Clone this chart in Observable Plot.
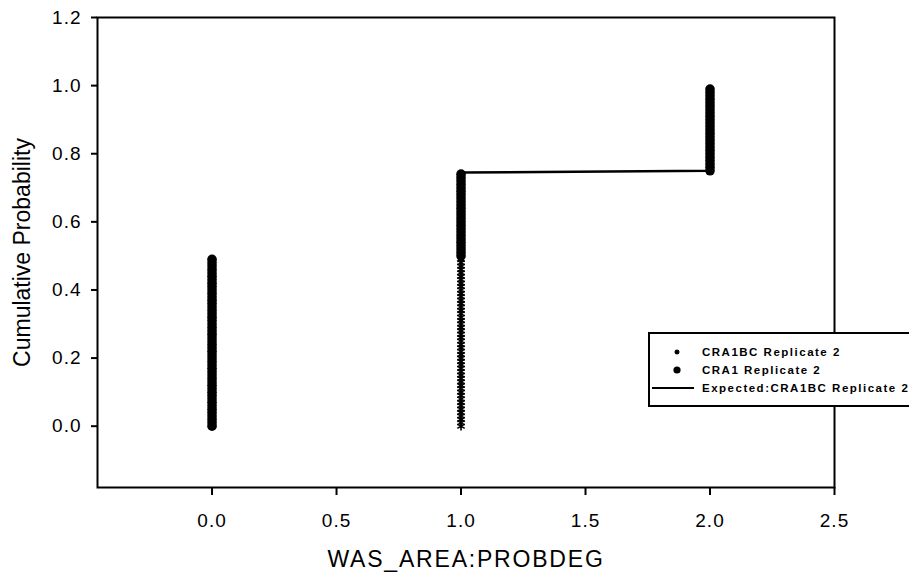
<!DOCTYPE html>
<html>
<head>
<meta charset="utf-8">
<script src="https://cdn.jsdelivr.net/npm/d3@7"></script>
<script src="https://cdn.jsdelivr.net/npm/@observablehq/plot@0.6"></script>
<style>
  html, body { margin: 0; padding: 0; background: white; overflow: hidden; }
  #wrap { position: relative; width: 909px; height: 576px; }
  #legend { position: absolute; left: 648px; top: 332px; width: 280px; height: 71px;
    border: 2px solid black; background: white; font-family: "Liberation Sans", Arial, sans-serif;
    font-weight: bold; font-size: 11.5px; letter-spacing: 1.5px; }
  #legend .row { position: absolute; left: 0; height: 16px; display: flex; align-items: center; }
  #legend svg { display: block; }
  #legend span { position: absolute; left: 52px; white-space: nowrap; }
</style>
</head>
<body>
<div id="wrap"></div>
<script>
// ---- data ----
const xTicks = [0, 0.5, 1.0, 1.5, 2.0, 2.5];
const yTicks = [0, 0.2, 0.4, 0.6, 0.8, 1.0, 1.2];
const xTitle = "WAS_AREA:PROBDEG";
const yTitle = "Cumulative Probability";
const seriesNames = ["CRA1BC Replicate 2", "CRA1 Replicate 2", "Expected:CRA1BC Replicate 2"];

// CRA1 Replicate 2 (filled circles): cumulative probabilities at each category
const cra1At0 = [0.00,0.01,0.02,0.03,0.04,0.05,0.06,0.07,0.08,0.09,0.10,0.11,0.12,0.13,0.14,0.15,0.16,0.17,0.18,0.19,
  0.20,0.21,0.22,0.23,0.24,0.25,0.26,0.27,0.28,0.29,0.30,0.31,0.32,0.33,0.34,0.35,0.36,0.37,0.38,0.39,
  0.40,0.41,0.42,0.43,0.44,0.45,0.46,0.47,0.48,0.49];
const cra1At1 = [0.50,0.51,0.52,0.53,0.54,0.55,0.56,0.57,0.58,0.59,0.60,0.61,0.62,0.63,0.64,0.65,0.66,0.67,0.68,0.69,
  0.70,0.71,0.72,0.73,0.74];
const cra1At2 = [0.75,0.76,0.77,0.78,0.79,0.80,0.81,0.82,0.83,0.84,0.85,0.86,0.87,0.88,0.89,0.90,0.91,0.92,0.93,0.94,
  0.95,0.96,0.97,0.98,0.99];

// CRA1BC Replicate 2 (small star markers)
const cra1bcAt1 = [0.00,0.01,0.02,0.03,0.04,0.05,0.06,0.07,0.08,0.09,0.10,0.11,0.12,0.13,0.14,0.15,0.16,0.17,0.18,0.19,
  0.20,0.21,0.22,0.23,0.24,0.25,0.26,0.27,0.28,0.29,0.30,0.31,0.32,0.33,0.34,0.35,0.36,0.37,0.38,0.39,
  0.40,0.41,0.42,0.43,0.44,0.45,0.46,0.47,0.48,0.49,0.50,0.51,0.52,0.53,0.54,0.55,0.56,0.57,0.58,0.59,
  0.60,0.61,0.62,0.63,0.64,0.65,0.66,0.67,0.68,0.69,0.70,0.71,0.72,0.73,0.74];

// Expected:CRA1BC Replicate 2 (line)
const expectedX = [1.0, 1.0, 2.0, 2.0];
const expectedY = [0.0, 0.745, 0.75, 0.99];

// ---- build tables ----
const cra1 = [
  ...cra1At0.map(y => ({x: 0, y})),
  ...cra1At1.map(y => ({x: 1, y})),
  ...cra1At2.map(y => ({x: 2, y}))
];
const cra1bc = cra1bcAt1.map(y => ({x: 1, y}));
const expected = expectedX.map((x, i) => ({x, y: expectedY[i]}));
const fmt = d3.format(".1f");

const chart = Plot.plot({
  width: 909,
  height: 576,
  marginLeft: 97,
  marginRight: 75,
  marginTop: 17,
  marginBottom: 89,
  style: {fontFamily: "'Liberation Sans', Arial, sans-serif", fontSize: "19px", color: "black", background: "white"},
  x: {domain: [-0.46, 2.5]},
  y: {domain: [-0.18, 1.2]},
  marks: [
    Plot.frame({stroke: "black", strokeWidth: 2}),
    Plot.axisX({ticks: xTicks, tickFormat: fmt, tickSize: 8, tickPadding: 18, strokeWidth: 2, label: null, fontSize: 19}),
    Plot.axisY({ticks: yTicks, tickFormat: fmt, tickSize: 6, tickPadding: 10, strokeWidth: 2, label: null, fontSize: 19}),
    Plot.text([xTitle], {frameAnchor: "bottom", dy: 72, textAnchor: "middle", lineAnchor: "middle", fontSize: 23, text: d => d}),
    Plot.text([yTitle], {frameAnchor: "left", dx: -75, rotate: -90, textAnchor: "middle", lineAnchor: "middle", fontSize: 23, text: d => d}),
    Plot.line(expected, {x: "x", y: "y", stroke: "black", strokeWidth: 2.5}),
    Plot.dot(cra1bc, {x: "x", y: "y", symbol: "asterisk", r: 4, stroke: "black", strokeWidth: 1.6}),
    Plot.dot(cra1, {x: "x", y: "y", r: 4.8, fill: "black", stroke: "none"})
  ]
});

// widen tick labels and the x title a little, as in the (horizontally stretched) reference
chart.querySelectorAll("text").forEach(t => {
  const s = t.textContent;
  if (s === xTitle) t.style.letterSpacing = "1.8px";
  else if (/^\d\.\d$/.test(s)) t.style.letterSpacing = "1px";
});

const wrap = document.getElementById("wrap");
wrap.appendChild(chart);

// ---- legend (overlaid inside the plot, as in the reference) ----
const legend = document.createElement("div");
legend.id = "legend";
const rows = [
  {top: 10, kind: "star"},
  {top: 28, kind: "dot"},
  {top: 46, kind: "line"}
];
rows.forEach((r, i) => {
  const row = document.createElement("div");
  row.className = "row";
  row.style.top = r.top + "px";
  const ns = "http://www.w3.org/2000/svg";
  const s = document.createElementNS(ns, "svg");
  s.setAttribute("width", "48"); s.setAttribute("height", "16");
  if (r.kind === "star") {
    const p = document.createElementNS(ns, "path");
    p.setAttribute("d", "M27,5.5V10.5M24.5,8H29.5M25.2,6.2L28.8,9.8M28.8,6.2L25.2,9.8");
    p.setAttribute("stroke", "black"); p.setAttribute("stroke-width", "1.3");
    s.appendChild(p);
  } else if (r.kind === "dot") {
    const c = document.createElementNS(ns, "circle");
    c.setAttribute("cx", "27"); c.setAttribute("cy", "8"); c.setAttribute("r", "3.6");
    s.appendChild(c);
  } else {
    const l = document.createElementNS(ns, "line");
    l.setAttribute("x1", "2"); l.setAttribute("x2", "44"); l.setAttribute("y1", "8"); l.setAttribute("y2", "8");
    l.setAttribute("stroke", "black"); l.setAttribute("stroke-width", "2");
    s.appendChild(l);
  }
  row.appendChild(s);
  const t = document.createElement("span");
  t.textContent = seriesNames[i];
  row.appendChild(t);
  legend.appendChild(row);
});
wrap.appendChild(legend);
</script>
</body>
</html>
